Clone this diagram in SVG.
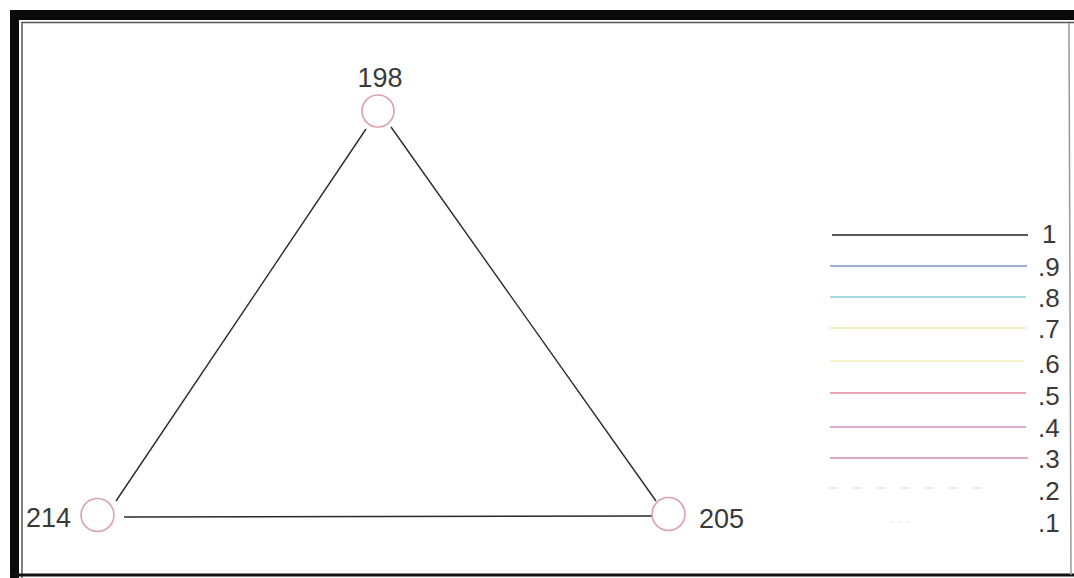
<svg xmlns="http://www.w3.org/2000/svg" width="1074" height="578" viewBox="0 0 1074 578">
<style>
.node circle{fill:none;stroke:#dca0ae;stroke-width:1.6}
.lbl{font-family:"Liberation Sans",Arial,sans-serif;font-size:27px;fill:#3a3a3a}
.edge{stroke:#2a2a2a;stroke-width:1.4;fill:none}
.leg{stroke-width:1.6;fill:none}
.legt{font-family:"Liberation Sans",Arial,sans-serif;font-size:26px;fill:#3a3a3a}
</style>
<rect width="1074" height="578" fill="#ffffff"/>
<g id="frame">
<rect x="10" y="10" width="1064" height="10" fill="#0a0a0a"/>
<rect x="10" y="10" width="9" height="568" fill="#0a0a0a"/>
<polyline points="22,578 22,22.5 1074,22.5" fill="none" stroke="#555" stroke-width="1.5"/>
<line x1="10" y1="575" x2="1074" y2="575" stroke="#111" stroke-width="3"/>
<line x1="1069" y1="23" x2="1071" y2="575" stroke="#999" stroke-width="1.5"/>
</g>
<g id="connectors">
<line class="edge" x1="366" y1="129" x2="116" y2="501"/>
<line class="edge" x1="391" y1="127" x2="656" y2="501"/>
<line class="edge" x1="124" y1="517" x2="652" y2="516"/>
</g>
<g id="node-198" class="node">
<circle cx="378" cy="111" r="16"/>
<text class="lbl" x="380" y="87" text-anchor="middle">198</text>
</g>
<g id="node-214" class="node">
<circle cx="97.5" cy="515" r="16.5"/>
<text class="lbl" x="71" y="527" text-anchor="end">214</text>
</g>
<g id="node-205" class="node">
<circle cx="668.5" cy="514" r="16.5"/>
<text class="lbl" x="699" y="528">205</text>
</g>
<g id="legend">
<line class="leg" x1="832" y1="235" x2="1028" y2="235" stroke="#222"/>
<line class="leg" x1="830" y1="266" x2="1027" y2="266" stroke="#7f94c8"/>
<line class="leg" x1="830" y1="297" x2="1026" y2="297" stroke="#8ccad4"/>
<line class="leg" x1="830" y1="328" x2="1026" y2="328" stroke="#e4e4a8"/>
<line class="leg" x1="830" y1="361" x2="1024" y2="361" stroke="#f4f2b8"/>
<line class="leg" x1="830" y1="393" x2="1026" y2="393" stroke="#e08898"/>
<line class="leg" x1="830" y1="427" x2="1026" y2="427" stroke="#d890c8"/>
<line class="leg" x1="830" y1="458" x2="1028" y2="458" stroke="#e088b4"/>
<line class="leg" x1="828" y1="488" x2="993" y2="488" stroke="#e6e6e6" stroke-dasharray="10 14"/>
<line class="leg" x1="890" y1="522" x2="914" y2="522" stroke="#eeeeee" stroke-dasharray="4 4"/>
<text class="legt" x="1042" y="243">1</text>
<text class="legt" x="1038" y="276">.9</text>
<text class="legt" x="1038" y="307">.8</text>
<text class="legt" x="1038" y="338">.7</text>
<text class="legt" x="1038" y="373">.6</text>
<text class="legt" x="1038" y="405">.5</text>
<text class="legt" x="1038" y="437">.4</text>
<text class="legt" x="1038" y="468">.3</text>
<text class="legt" x="1038" y="500">.2</text>
<text class="legt" x="1038" y="532">.1</text>
</g>
</svg>
